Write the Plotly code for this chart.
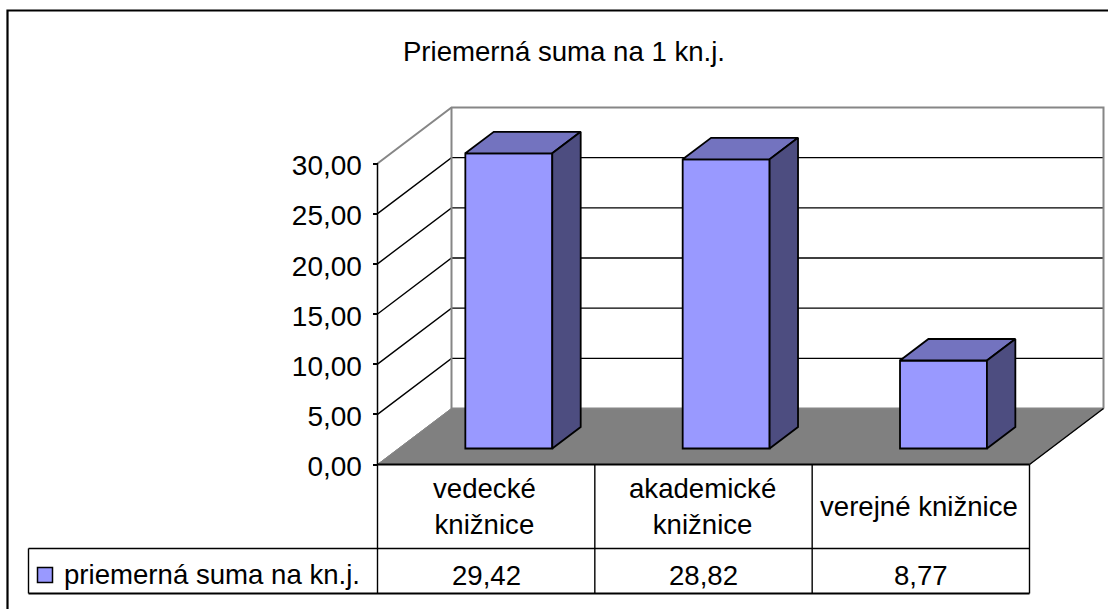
import plotly.graph_objects as go

title = "Priemerná suma na 1 kn.j."
series_name = "priemerná suma na kn.j."
categories = ["vedecké<br>knižnice", "akademické<br>knižnice", "verejné knižnice"]
values = [29.42, 28.82, 8.77]
tick_values = [0, 5, 10, 15, 20, 25, 30]

W, H = 1108, 609
X0, X1, Y0, Y30 = 377.5, 1029.5, 464.5, 163.5
DX, DY = 74, 56
FONT = "Liberation Sans"
FS = 27.6
FRONT, TOP, SIDE, FLOOR, WALL = "#9999FF", "#7373BF", "#4D4D80", "#808080", "#868686"

xu = (X1 - X0) / len(values)
yu = (Y0 - Y30) / 30.0
D0, D1 = 16 / DY, 37.5 / DY
BAR_W = 0.4
BAR_NUDGE = 1.5 / xu


def shift(d):
    return d * DX / xu, d * DY / yu


def P(c, v, d=0.0):
    sx, sy = shift(d)
    return c + sx, v + sy


def line(pts, color="black", width=1.4, layer="below", fill=None):
    path = "M " + " L ".join(f"{a},{b}" for a, b in pts) + (" Z" if fill else "")
    return dict(type="path", path=path, xref="x", yref="y", layer=layer,
                line=dict(color=color, width=width), fillcolor=fill)


def px(x, y):
    return (x - X0) / xu, (Y0 - y) / yu


n = len(values)
shapes = []
# floor
shapes.append(line([P(0, 0), P(n, 0), P(n, 0, 1), P(0, 0, 1)], FLOOR, 1, fill=FLOOR))
# walls and gridlines
for t in tick_values[1:-1]:
    shapes.append(line([P(0, t), P(0, t, 1), P(n, t, 1)]))
top = tick_values[-1]
shapes.append(line([P(0, top), P(0, top, 1), P(n, top, 1), P(n, 0, 1)], WALL, 2))
shapes.append(line([P(0, top, 1), P(0, 0, 1), P(n, 0, 1)], WALL, 2))
shapes.append(line([P(0, 0), P(0, 0, 1)], WALL, 1))
shapes.append(line([P(0, 0), P(0, top)], "black", 1.5))
# table
row1, row2 = 548.5, 593.5
shapes.append(line([P(0, 0), P(n, 0)], "black", 2.2, layer="above"))
shapes.append(line([px(28.5, row1), px(X1, row1)]))
shapes.append(line([px(28.5, row2), px(X1, row2)], "black", 2))
shapes.append(line([px(28.5, row1), px(28.5, row2)]))
for i in range(n + 1):
    shapes.append(line([P(i, 0), (i, px(0, row2)[1])]))
shapes.append(line([P(n, 0), P(n, 0, 1)]))
# chart frame
shapes.append(line([px(7.5, H), px(7.5, 10.5), px(W, 10.5)], "black", 2.2))
# legend key
shapes.append(line([px(37.5, 567.5), px(52.5, 567.5), px(52.5, 582.5), px(37.5, 582.5)],
                   "black", 1.5, layer="above", fill=FRONT))

fig = go.Figure()
centers = [i + 0.5 for i in range(n)]
s0x, s0y = shift(D0)
fig.add_trace(go.Bar(
    x=[c + s0x + BAR_NUDGE for c in centers], y=values, base=[s0y] * n, width=BAR_W,
    marker=dict(color=FRONT, line=dict(color="black", width=1.8)),
    showlegend=False, hoverinfo="skip"))

for c, v in zip(centers, values):
    l, r = c + BAR_NUDGE - BAR_W / 2, c + BAR_NUDGE + BAR_W / 2
    t_pts = [P(l, v, D0), P(r, v, D0), P(r, v, D1), P(l, v, D1), P(l, v, D0)]
    s_pts = [P(r, 0, D0), P(r, v, D0), P(r, v, D1), P(r, 0, D1), P(r, 0, D0)]
    for pts, col in ((t_pts, TOP), (s_pts, SIDE)):
        fig.add_trace(go.Scatter(
            x=[p[0] for p in pts], y=[p[1] for p in pts], mode="lines", fill="toself",
            fillcolor=col, line=dict(color="black", width=1.8),
            showlegend=False, hoverinfo="skip"))

ann = []
for c, cat, v in zip(centers, categories, values):
    ann.append(dict(x=c - 1.5 / xu, y=px(0, 506.5)[1], xref="x", yref="y", text=cat, showarrow=False,
                    font=dict(family=FONT, size=FS, color="black"), align="center"))
    ann.append(dict(x=c, y=px(0, 575)[1], xref="x", yref="y", text=f"{v:.2f}".replace(".", ","),
                    showarrow=False, font=dict(family=FONT, size=FS, color="black")))
ann.append(dict(x=px(62, 0)[0], y=px(0, 574)[1], xref="x", yref="y", text=series_name,
                showarrow=False, xanchor="left", font=dict(family=FONT, size=FS, color="black")))

fig.update_layout(
    width=W, height=H, margin=dict(l=0, r=0, t=0, b=0, pad=0),
    autosize=False,
    paper_bgcolor="white", plot_bgcolor="rgba(0,0,0,0)",
    separators=", ",
    title=dict(text=title, x=564 / W, xanchor="center", y=1 - 51 / H, yanchor="middle",
               font=dict(family=FONT, size=FS, color="black")),
    xaxis=dict(range=[-X0 / xu, (W - X0) / xu], visible=False, fixedrange=True),
    yaxis=dict(range=[(Y0 - H) / yu, Y0 / yu], anchor="free", position=X0 / W, side="left",
               tickmode="array", tickvals=tick_values, tickformat=".2f",
               ticks="outside", ticklen=5, tickcolor="black", tickwidth=2,
               ticklabelstandoff=5, ticklabelshift=2,
               showgrid=False, zeroline=False, showline=False, fixedrange=True,
               tickfont=dict(family=FONT, size=28, color="black")),
    shapes=shapes, annotations=ann,
)
fig.write_html("out.html", config=dict(displayModeBar=False),
               post_script="document.body.style.margin='0';document.body.style.overflow='hidden';")
